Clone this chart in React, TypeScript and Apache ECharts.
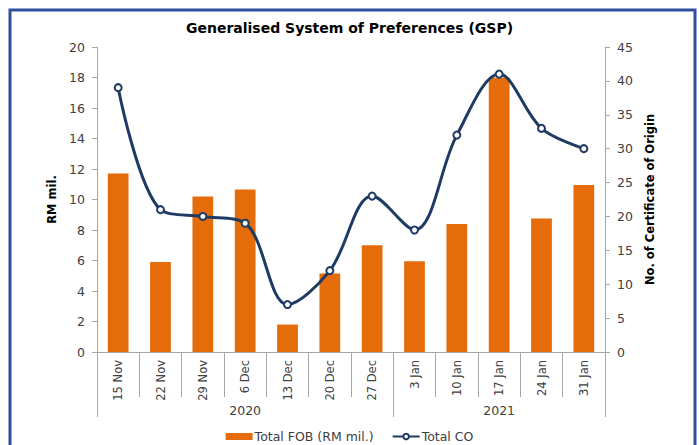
import React, { useEffect, useRef } from "react";
import * as echarts from "echarts";

const categories = ["15 Nov", "22 Nov", "29 Nov", "6 Dec", "13 Dec", "20 Dec", "27 Dec", "3 Jan", "10 Jan", "17 Jan", "24 Jan", "31 Jan"];
const categoryYears = ["2020", "2020", "2020", "2020", "2020", "2020", "2020", "2021", "2021", "2021", "2021", "2021"];
const totalFob = [11.7, 5.9, 10.2, 10.65, 1.8, 5.15, 7.0, 5.95, 8.4, 18.0, 8.75, 10.95];
const totalCo = [39, 21, 20, 19, 7, 12, 23, 18, 32, 41, 33, 30];
const leftTicks = { min: 0, max: 20, interval: 2 };
const rightTicks = { min: 0, max: 45, interval: 5 };

const FONT = "DejaVu Sans";
const TEXT = "#404040";
const AXIS = "#a6a6a6";

function groupBounds(years: string[]) {
  const starts: number[] = [];
  const mids: number[] = [];
  let i = 0;
  while (i < years.length) {
    let j = i;
    while (j + 1 < years.length && years[j + 1] === years[i]) j++;
    starts.push(i);
    mids.push(Math.floor((i + j + 1) / 2));
    i = j + 1;
  }
  return { starts, mids };
}

export default function App() {
  const ref = useRef<HTMLDivElement>(null);
  useEffect(() => {
    if (!ref.current) return;
    const chart = echarts.init(ref.current, null, { renderer: "svg" });
    const { starts, mids } = groupBounds(categoryYears);
    chart.setOption({
      animation: false,
      backgroundColor: "#ffffff",
      textStyle: { fontFamily: FONT },
      title: {
        text: "Generalised System of Preferences (GSP)",
        left: "center",
        top: 16,
        textStyle: { fontFamily: FONT, fontSize: 14, fontWeight: "bold", color: "#000000" },
      },
      graphic: [
        {
          type: "rect",
          shape: { x: 10, y: 10, width: 685, height: 460 },
          style: { fill: "none", stroke: "#2f4f9e", lineWidth: 3 },
          silent: true,
        },
      ],
      legend: {
        bottom: -3,
        left: "center",
        itemGap: 18,
        itemWidth: 27,
        itemHeight: 7,
        textStyle: { fontFamily: FONT, fontSize: 12.5, color: TEXT, padding: [0, 0, 0, -3] },
        data: [
          { name: "Total FOB (RM mil.)", icon: "rect" },
          { name: "Total CO" },
        ],
      },
      grid: { left: 97, right: 94, top: 47, bottom: 93, containLabel: false },
      xAxis: [
        {
          type: "category",
          data: categories,
          position: "bottom",
          axisLine: { show: true, lineStyle: { color: AXIS, width: 1 } },
          axisTick: { show: true, interval: 0, length: 45, lineStyle: { color: AXIS } },
          axisLabel: {
            rotate: 90,
            interval: 0,
            margin: 8,
            fontFamily: FONT,
            fontSize: 11.5,
            color: TEXT,
          },
        },
        {
          type: "category",
          data: categoryYears,
          position: "bottom",
          offset: 0,
          axisLine: { show: false },
          axisTick: {
            show: true,
            length: 65,
            interval: (index: number) => starts.indexOf(index) >= 0,
            lineStyle: { color: AXIS },
          },
          axisLabel: {
            interval: (index: number) => mids.indexOf(index) >= 0,
            margin: 52,
            fontFamily: FONT,
            fontSize: 12.5,
            color: TEXT,
          },
        },
      ],
      yAxis: [
        {
          type: "value",
          min: leftTicks.min,
          max: leftTicks.max,
          interval: leftTicks.interval,
          name: "RM mil.",
          nameLocation: "middle",
          nameRotate: 90,
          nameGap: 32,
          nameTextStyle: { fontFamily: FONT, fontSize: 11.5, fontWeight: "bold", color: "#000000" },
          axisLine: { show: true, lineStyle: { color: AXIS } },
          axisTick: { show: true, length: 5, lineStyle: { color: AXIS } },
          axisLabel: { margin: 12, fontFamily: FONT, fontSize: 12.5, color: TEXT },
          splitLine: { show: false },
        },
        {
          type: "value",
          min: rightTicks.min,
          max: rightTicks.max,
          interval: rightTicks.interval,
          name: "No. of Certificate of Origin",
          nameLocation: "middle",
          nameRotate: 90,
          nameGap: 37,
          nameTextStyle: { fontFamily: FONT, fontSize: 11.5, fontWeight: "bold", color: "#000000" },
          axisLine: { show: true, lineStyle: { color: AXIS } },
          axisTick: { show: true, length: 5, lineStyle: { color: AXIS } },
          axisLabel: { margin: 12, fontFamily: FONT, fontSize: 12.5, color: TEXT },
          splitLine: { show: false },
        },
      ],
      series: [
        {
          name: "Total FOB (RM mil.)",
          type: "bar",
          xAxisIndex: 0,
          yAxisIndex: 0,
          data: totalFob,
          barCategoryGap: "51%",
          itemStyle: { color: "#e46c0a" },
        },
        {
          name: "Total CO",
          type: "line",
          xAxisIndex: 0,
          yAxisIndex: 1,
          data: totalCo,
          smooth: 0.35,
          symbol: "circle",
          symbolSize: 7,
          showSymbol: true,
          lineStyle: { color: "#1f3b63", width: 3 },
          itemStyle: { color: "#ffffff", borderColor: "#1f3b63", borderWidth: 2 },
          z: 5,
        },
      ],
    });
    return () => chart.dispose();
  }, []);
  return (
    <div
      ref={ref}
      style={{ position: "fixed", left: 0, top: 0, width: 699, height: 445, background: "#fff" }}
    />
  );
}
